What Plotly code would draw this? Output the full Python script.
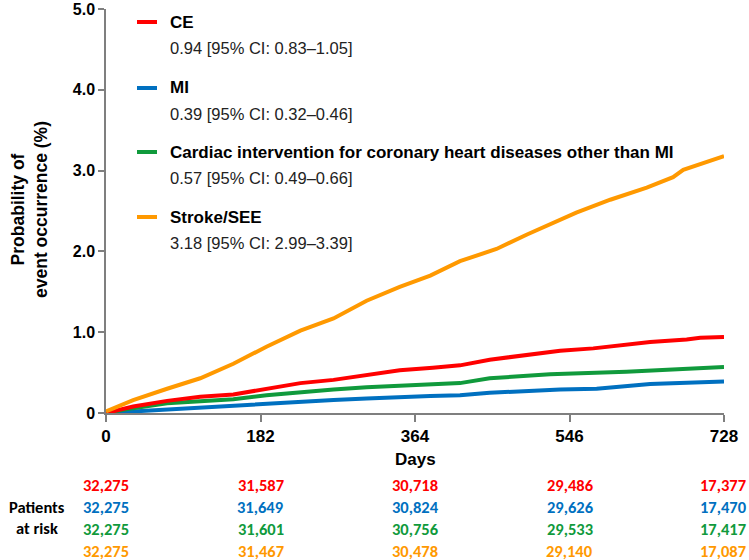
import plotly.graph_objects as go

# ---- data ----
days_ce = [0, 32, 72, 111, 150, 189, 229, 268, 307, 346, 385, 417, 452, 492, 535, 574, 613, 641, 684, 700, 728]
ce = [0, 0.08, 0.15, 0.20, 0.23, 0.30, 0.37, 0.41, 0.47, 0.53, 0.56, 0.59, 0.66, 0.71, 0.77, 0.80, 0.84, 0.88, 0.91, 0.93, 0.94]

days_mi = [0, 32, 72, 111, 150, 189, 229, 268, 307, 346, 382, 417, 452, 535, 578, 641, 684, 728]
mi = [0, 0.02, 0.045, 0.07, 0.09, 0.12, 0.14, 0.16, 0.18, 0.20, 0.21, 0.22, 0.25, 0.29, 0.30, 0.36, 0.37, 0.39]

days_ci = [0, 32, 72, 111, 150, 189, 229, 268, 307, 346, 382, 417, 452, 523, 613, 684, 728]
ci = [0, 0.06, 0.12, 0.15, 0.17, 0.22, 0.26, 0.29, 0.32, 0.34, 0.36, 0.37, 0.43, 0.48, 0.51, 0.55, 0.57]

days_st = [0, 32, 72, 111, 150, 189, 229, 268, 307, 346, 382, 417, 460, 496, 554, 594, 637, 668, 680, 728]
st = [0.02, 0.16, 0.30, 0.43, 0.61, 0.82, 1.02, 1.17, 1.39, 1.56, 1.70, 1.88, 2.03, 2.21, 2.48, 2.64, 2.79, 2.92, 3.01, 3.18]

x_ticks = [0, 182, 364, 546, 728]
y_ticks = [0, 1, 2, 3, 4, 5]
y_tick_labels = ["0", "1.0", "2.0", "3.0", "4.0", "5.0"]

series_names = ["CE", "MI", "Cardiac intervention for coronary heart diseases other than MI", "Stroke/SEE"]
series_ci_text = ["0.94 [95% CI: 0.83\u20131.05]", "0.39 [95% CI: 0.32\u20130.46]",
                  "0.57 [95% CI: 0.49\u20130.66]", "3.18 [95% CI: 2.99\u20133.39]"]
colors = ["#FF0000", "#0070C0", "#109A3C", "#FF9900"]

risk_ce = ["32,275", "31,587", "30,718", "29,486", "17,377"]
risk_mi = ["32,275", "31,649", "30,824", "29,626", "17,470"]
risk_ci = ["32,275", "31,601", "30,756", "29,533", "17,417"]
risk_st = ["32,275", "31,467", "30,478", "29,140", "17,087"]

# ---- figure ----
W, H = 749, 560
L, R, T, B = 106, 25, 9, 147
plot_h = H - T - B

fig = go.Figure()
curves = [(days_mi, mi, colors[1]), (days_ci, ci, colors[2]), (days_ce, ce, colors[0]), (days_st, st, colors[3])]
for xs, ys, c in curves:
    fig.add_trace(go.Scatter(x=xs, y=ys, mode="lines", line=dict(color=c, width=4),
                             showlegend=False, hoverinfo="skip", cliponaxis=False))

axis_col = "#7F7F7F"
fig.update_xaxes(range=[0, 728], tickvals=x_ticks, ticktext=[str(v) for v in x_ticks], automargin=False,
                 showgrid=False, zeroline=False, showline=True, linecolor=axis_col, linewidth=1.5,
                 ticks="outside", ticklen=7, tickcolor=axis_col, tickwidth=1.5,
                 tickfont=dict(family="Liberation Sans Narrow, Arial Narrow, Liberation Sans, sans-serif",
                               size=17, color="#000000", weight="bold"))
fig.update_yaxes(range=[0, 5.001], tickvals=y_ticks, ticktext=y_tick_labels, ticklabeloverflow="allow",
                 automargin=False,
                 showgrid=False, zeroline=False, showline=True, linecolor=axis_col, linewidth=1.5,
                 ticks="outside", ticklen=6, tickcolor=axis_col, tickwidth=1.5,
                 tickfont=dict(family="Liberation Sans, Arial, sans-serif", size=16, color="#000000", weight="bold"))

def py_to_paper(py):
    return (H - B - py) / plot_h

def px_to_paper(px):
    return (px - L) / (W - L - R)

annotations = []
shapes = []
# legend
label_y = [22, 88, 152, 217]
for i in range(4):
    yl = py_to_paper(label_y[i])
    shapes.append(dict(type="line", xref="paper", yref="paper", x0=px_to_paper(137), x1=px_to_paper(157),
                       y0=yl, y1=yl, line=dict(color=colors[i], width=4)))
    annotations.append(dict(xref="paper", yref="paper", x=px_to_paper(168), y=yl, xanchor="left", yanchor="middle",
                            text="<b>" + series_names[i] + "</b>", showarrow=False,
                            font=dict(family="Liberation Sans, Arial, sans-serif", size=17, color="#000000")))
    annotations.append(dict(xref="paper", yref="paper", x=px_to_paper(168), y=py_to_paper(label_y[i] + 26),
                            xanchor="left", yanchor="middle", text=series_ci_text[i], showarrow=False,
                            font=dict(family="Liberation Sans, Arial, sans-serif", size=16.5, color="#222222")))

# y title
annotations.append(dict(xref="paper", yref="paper", x=px_to_paper(29), y=py_to_paper(210),
                        xanchor="center", yanchor="middle", textangle=-90,
                        text="<b>Probability of<br>event occurrence (%)</b>", showarrow=False,
                        font=dict(family="Liberation Sans, Arial, sans-serif", size=17.5, color="#000000")))
# x title
annotations.append(dict(xref="paper", yref="paper", x=px_to_paper(415), y=py_to_paper(459),
                        xanchor="center", yanchor="middle", text="<b>Days</b>", showarrow=False,
                        font=dict(family="Liberation Sans Narrow, Arial Narrow, Liberation Sans, sans-serif",
                                  size=17, color="#000000")))

# patients at risk
risk_rows = [risk_ce, risk_mi, risk_ci, risk_st]
row_y = [485, 507, 529, 551]
narrow = "Carlito, Liberation Sans Narrow, Arial Narrow, Liberation Sans, sans-serif"
for r, row in enumerate(risk_rows):
    for j, v in enumerate(row):
        last = j == len(row) - 1
        annotations.append(dict(xref="x", yref="paper", x=x_ticks[j], y=py_to_paper(row_y[r]),
                                xanchor="center", yanchor="middle", text="<b>" + v + "</b>", showarrow=False,
                                xshift=-1 if last else 0,
                                font=dict(family=narrow, size=16.5, color=colors[r])))
annotations.append(dict(xref="paper", yref="paper", x=px_to_paper(37), y=py_to_paper(507),
                        xanchor="center", yanchor="middle", text="<b>Patients</b>", showarrow=False,
                        font=dict(family=narrow, size=16.5, color="#000000")))
annotations.append(dict(xref="paper", yref="paper", x=px_to_paper(37), y=py_to_paper(528),
                        xanchor="center", yanchor="middle", text="<b>at risk</b>", showarrow=False,
                        font=dict(family=narrow, size=16.5, color="#000000")))

fig.update_layout(width=W, height=H, margin=dict(l=L, r=R, t=T, b=B, autoexpand=False),
                  plot_bgcolor="white", paper_bgcolor="white",
                  annotations=annotations, shapes=shapes)

fig.write_html("out.html", config={"displayModeBar": False},
               post_script="document.body.style.margin='0';document.body.style.padding='0';")
